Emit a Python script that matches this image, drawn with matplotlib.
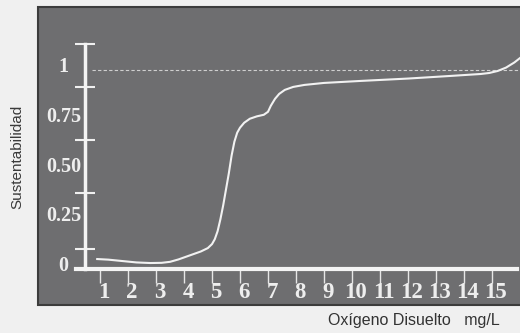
import matplotlib
matplotlib.use("Agg")
import matplotlib.pyplot as plt
from matplotlib.patches import Rectangle
from matplotlib.transforms import ScaledTranslation

# curva: oxigeno disuelto (mg/L) vs sustentabilidad
OD = [0.9, 1.3, 1.8, 2.3, 2.8, 3.2, 3.5, 3.8, 4.2, 4.6, 4.85, 5.0, 5.1, 5.2,
      5.3, 5.4, 5.5, 5.6, 5.7, 5.8, 5.9, 6.0, 6.15, 6.35, 6.6, 6.85, 7.0,
      7.1, 7.25, 7.4, 7.6, 7.9, 8.3, 9.0, 10.3, 12.0, 13.5, 14.6, 14.9,
      15.2, 15.5, 15.8, 16.0]
SUST = [0.05, 0.047, 0.04, 0.033, 0.03, 0.031, 0.036, 0.048, 0.068, 0.088,
        0.105, 0.125, 0.15, 0.19, 0.25, 0.32, 0.40, 0.48, 0.57, 0.64, 0.685,
        0.71, 0.735, 0.755, 0.767, 0.775, 0.79, 0.82, 0.855, 0.88, 0.90,
        0.915, 0.925, 0.935, 0.945, 0.957, 0.97, 0.98, 0.985, 0.995, 1.012,
        1.038, 1.06]

X_TICKS = list(range(1, 16))
Y_TICKS = [0, 0.25, 0.5, 0.75, 1]
Y_LABELS = ["0", "0.25", "0.50", "0.75", "1"]
Y_MARKS = [0.1, 0.38, 0.65, 0.915, 1.13]

W, H = 520, 333
fig = plt.figure(figsize=(W / 100, H / 100), dpi=100, facecolor="#f0f0f0")

# panel gris oscuro
fig.patches.append(Rectangle((38 / W, 28 / H), 1, 298 / H, transform=fig.transFigure,
                             facecolor="#6e6e70", edgecolor="#3c3c3c", lw=1.5,
                             zorder=-10))

ax = fig.add_axes([72 / W, 64 / H, 448 / W, 238.8 / H])
ax.patch.set_visible(False)
ax.set_xlim(0, 16)
ax.set_ylim(0, 1.2)

for s in ("top", "right"):
    ax.spines[s].set_visible(False)
ax.spines["left"].set_position(("data", 0.46))
ax.spines["left"].set_bounds(0, 1.13)
ax.spines["left"].set_color("#f4f4f4")
ax.spines["left"].set_linewidth(2.5)
ax.spines["bottom"].set_bounds(0.14, 15.9)
ax.spines["bottom"].set_color("#f4f4f4")
ax.spines["bottom"].set_linewidth(3)

ax.set_xticks(X_TICKS)
ax.set_xticklabels([])
ax.tick_params(axis="x", direction="out", length=10, width=1, color="#e6e6e6")
ax.set_yticks([])
ax.set_yticks(Y_MARKS, minor=True)
ax.tick_params(axis="y", which="minor", direction="inout", length=14, width=1.5,
               color="#f0f0f0")

lbl_font = dict(family="Liberation Serif", weight="bold", color="#eeeeee")
up = ax.transData + ScaledTranslation(0, 3 / 100, fig.dpi_scale_trans)
for v, s in zip(Y_TICKS, Y_LABELS):
    ax.text(-0.3, v, s, transform=up, ha="center", va="center", fontsize=14.5, **lbl_font)
down = ax.transData + ScaledTranslation(4 / 100, -13 / 100, fig.dpi_scale_trans)
for x in X_TICKS:
    ax.text(x, 0, str(x), transform=down, ha="center", va="top", fontsize=16.5, **lbl_font)

ax.hlines(1, 0.7, 16, colors="#cfcfcf", linestyles=(0, (3, 2)), lw=0.8)
ax.plot(OD, SUST, color="#f2f2f2", lw=1.5, clip_on=False, solid_joinstyle="round")

fig.text(17 / W, 1 - 157 / H, "Sustentabilidad", rotation=90, ha="center", va="center",
         family="Liberation Sans", fontsize=11, color="#3a3a3a")
fig.text(328 / W, 1 - 321 / H, "Oxígeno Disuelto   mg/L", ha="left", va="center",
         family="Liberation Sans", fontsize=11.5, color="#333333")

fig.savefig("out.png", dpi=100, facecolor=fig.get_facecolor())
